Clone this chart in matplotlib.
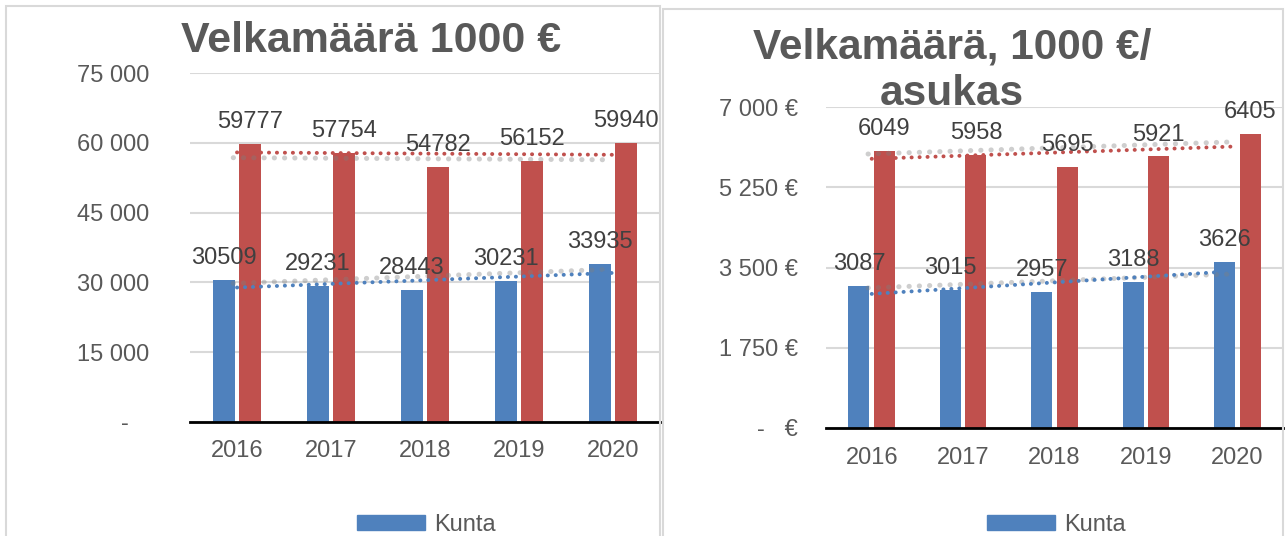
import matplotlib
matplotlib.use("Agg")
import matplotlib.pyplot as plt
from matplotlib.patches import Rectangle, Patch
import numpy as np

# ---- data ----
years = ["2016", "2017", "2018", "2019", "2020"]
kunta_total = [30509, 29231, 28443, 30231, 33935]
other_total = [59777, 57754, 54782, 56152, 59940]
kunta_per_cap = [3087, 3015, 2957, 3188, 3626]
other_per_cap = [6049, 5958, 5695, 5921, 6405]
# light grey trend lines (start, end)
grey_trend_total_hi = [56800, 56350]
grey_trend_total_lo = [29800, 32800]
grey_trend_cap_hi = [5975, 6240]
grey_trend_cap_lo = [3055, 3360]
yticks_total = [0, 15000, 30000, 45000, 60000, 75000]
yticks_cap = [0, 1750, 3500, 5250, 7000]
title_left = "Velkamäärä 1000 €"
title_right = "Velkamäärä, 1000 €/\nasukas"
legend_label = "Kunta"

BLUE = "#4F81BD"
RED = "#C0504D"
GRID = "#D9D9D9"
TXT = "#595959"
LBL = "#404040"
FONT = "Liberation Sans"
plt.rcParams["font.family"] = [FONT, "DejaVu Sans"]

W, H = 1285, 536
fig = plt.figure(figsize=(W / 100, H / 100), dpi=100)


def fx(px):
    return px / W


def fy(py):
    return 1 - py / H


# panel borders
fig.patches.append(Rectangle((fx(6), fy(560)), fx(654), (560 - 6) / H, transform=fig.transFigure,
                             fill=False, edgecolor=GRID, lw=1.5, zorder=0))
fig.patches.append(Rectangle((fx(663), fy(560)), fx(620), (560 - 9) / H, transform=fig.transFigure,
                             fill=False, edgecolor=GRID, lw=1.5, zorder=0))


def linfit(vals):
    x = np.arange(len(vals))
    a, b = np.polyfit(x, vals, 1)
    return x, a * x + b


def draw(ax, blue, red, ghi, glo, yticks, fmt, ypad, xpad):
    x = np.arange(len(years))
    w = 0.23
    off = 0.14
    ax.bar(x - off, blue, w, color=BLUE, zorder=2)
    ax.bar(x + off, red, w, color=RED, zorder=2)
    for xi, v in zip(x - off, blue):
        ax.annotate(str(v), (xi, v), xytext=(0, 11.5), textcoords="offset points",
                    ha="center", va="baseline", fontsize=17, color=LBL, zorder=5)
    for xi, v in zip(x + off, red):
        ax.annotate(str(v), (xi, v), xytext=(0, 11.5), textcoords="offset points",
                    ha="center", va="baseline", fontsize=17, color=LBL, zorder=5)
    dot = (0, (0.05, 2.0))
    gx = [x[0] - 0.04, x[-1] - 0.04]
    ax.plot(gx, ghi, color="#7f7f7f", alpha=0.38, lw=3.6, linestyle=dot,
            dash_capstyle="round", zorder=3)
    ax.plot(gx, glo, color="#7f7f7f", alpha=0.38, lw=3.6, linestyle=dot,
            dash_capstyle="round", zorder=3)
    tx, ty = linfit(blue)
    ax.plot(tx, ty, color=BLUE, lw=2.8, linestyle=dot, dash_capstyle="round", zorder=4)
    tx, ty = linfit(red)
    ax.plot(tx, ty, color=RED, lw=2.8, linestyle=dot, dash_capstyle="round", zorder=4)

    ax.set_xlim(-0.5, len(years) - 0.5)
    ax.set_ylim(yticks[0], yticks[-1])
    ax.set_xticks(x)
    ax.set_xticklabels(years)
    ax.set_yticks(yticks)
    ax.set_yticklabels([fmt(v) for v in yticks])
    ax.tick_params(axis="both", length=0, labelsize=17, labelcolor=TXT)
    ax.tick_params(axis="y", pad=ypad)
    ax.tick_params(axis="x", pad=xpad)
    for s in ["top", "right", "left"]:
        ax.spines[s].set_visible(False)
    ax.spines["bottom"].set_color("black")
    ax.spines["bottom"].set_linewidth(2)
    ax.spines["bottom"].set_zorder(6)
    ax.yaxis.grid(True, color=GRID, lw=1.5, zorder=0)
    ax.set_axisbelow(True)
    ax.patch.set_alpha(0)


def fmt_total(v):
    return "-   " if v == 0 else f"{v:,}".replace(",", " ")


def fmt_cap(v):
    return "-   €" if v == 0 else f"{v:,}".replace(",", " ") + " €"


ax1 = fig.add_axes([fx(190), fy(422), fx(470), (422 - 73) / H])
draw(ax1, kunta_total, other_total, grey_trend_total_hi, grey_trend_total_lo,
     yticks_total, fmt_total, 29.5, 13)

ax2 = fig.add_axes([fx(826), fy(428), fx(457), (428 - 107) / H])
draw(ax2, kunta_per_cap, other_per_cap, grey_trend_cap_hi, grey_trend_cap_lo,
     yticks_cap, fmt_cap, 20, 14)

fig.text(fx(371), fy(52), title_left, ha="center", va="baseline", fontsize=31,
         fontweight="bold", color=TXT)
fig.text(fx(952), fy(105), title_right, ha="center", va="baseline", fontsize=30.5,
         fontweight="bold", color=TXT, linespacing=1.2, multialignment="center")

for lx in (357, 987):
    fig.legend(handles=[Patch(color=BLUE, label=legend_label)], loc="center left",
               bbox_to_anchor=(fx(lx), fy(525)), frameon=False, borderpad=0,
               borderaxespad=0, fontsize=17, labelcolor=TXT, handlelength=2.9,
               handleheight=0.56, handletextpad=0.35)

fig.savefig("out.png", dpi=100)
